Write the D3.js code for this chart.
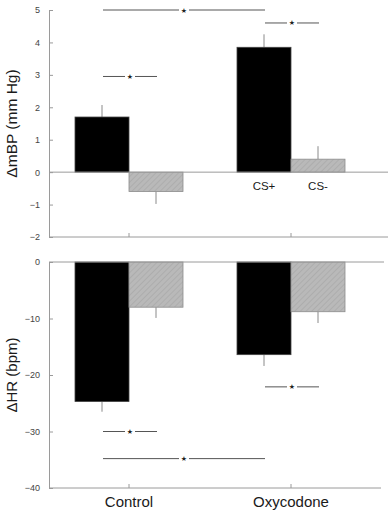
<!DOCTYPE html>
<html>
<head>
<meta charset="utf-8">
<script src="https://cdn.jsdelivr.net/npm/d3@7"></script>
<style>
  body { margin: 0; background: #fff; }
  svg { display: block; font-family: "Liberation Sans", Arial, sans-serif; }
</style>
</head>
<body>
<svg id="chart"></svg>
<script>
// groups and cues
const groups = ["Control", "Oxycodone"];
const cues = ["CS+", "CS-"];

// change in mean blood pressure (mm Hg)
const mbpCSplus = [1.7, 3.85];
const mbpCSplusErr = [0.37, 0.4];
const mbpCSminus = [-0.6, 0.4];
const mbpCSminusErr = [0.38, 0.4];
const mbpTicks = [-2, -1, 0, 1, 2, 3, 4, 5];

// change in heart rate (bpm)
const hrCSplus = [-24.7, -16.4];
const hrCSplusErr = [1.8, 2.0];
const hrCSminus = [-8.0, -8.8];
const hrCSminusErr = [1.9, 2.0];
const hrTicks = [-40, -30, -20, -10, 0];

// significance brackets: [group, cue] -> [group, cue] at value y
const mbpSig = [
  { a: ["Control", "CS+"], b: ["Control", "CS-"], y: 2.95 },
  { a: ["Control", "CS+"], b: ["Oxycodone", "CS+"], y: 5.0 },
  { a: ["Oxycodone", "CS+"], b: ["Oxycodone", "CS-"], y: 4.6 }
];
const hrSig = [
  { a: ["Control", "CS+"], b: ["Control", "CS-"], y: -30 },
  { a: ["Control", "CS+"], b: ["Oxycodone", "CS+"], y: -34.8 },
  { a: ["Oxycodone", "CS+"], b: ["Oxycodone", "CS-"], y: -22.1 }
];

let width = 388, height = 513;
let axisX = 49;
let axisGray = "#9a9a9a";

let svg = d3.select("#chart").attr("width", width).attr("height", height);

let defs = svg.append("defs");
let pat = defs.append("pattern")
  .attr("id", "hatch")
  .attr("patternUnits", "userSpaceOnUse")
  .attr("width", 4).attr("height", 4)
  .attr("patternTransform", "rotate(45)");
pat.append("rect").attr("width", 4).attr("height", 4).attr("fill", "#b9b9b9");
pat.append("line").attr("x1", 0).attr("y1", 0).attr("x2", 0).attr("y2", 4)
  .attr("stroke", "#a6a6a6").attr("stroke-width", 1.2);

let x = d3.scaleBand().domain(groups).range([48, 372]);
let xCue = d3.scaleBand().domain(cues).range([0, 108]);
let barX = (g, c) => x(g) + x.bandwidth() / 2 - 54 + xCue(c);
let barMid = (g, c) => barX(g, c) + xCue.bandwidth() / 2;

function panel(cfg) {
  let y = d3.scaleLinear().domain(cfg.domain).range(cfg.range);
  let g = svg.append("g");

  let rows = [];
  groups.forEach((grp, i) => {
    rows.push({ group: grp, cue: "CS+", value: cfg.plus[i], err: cfg.plusErr[i] });
    rows.push({ group: grp, cue: "CS-", value: cfg.minus[i], err: cfg.minusErr[i] });
  });

  // error bars (drawn first, outward from bar end)
  g.selectAll(".err").data(rows).enter().append("line")
    .attr("class", "err")
    .attr("x1", d => barMid(d.group, d.cue))
    .attr("x2", d => barMid(d.group, d.cue))
    .attr("y1", d => y(d.value))
    .attr("y2", d => y(d.value + Math.sign(d.value) * d.err))
    .attr("stroke", "#8a8a8a").attr("stroke-width", 1);

  // bars
  g.selectAll(".bar").data(rows).enter().append("rect")
    .attr("class", "bar")
    .attr("x", d => barX(d.group, d.cue))
    .attr("width", xCue.bandwidth())
    .attr("y", d => Math.min(y(0), y(d.value)))
    .attr("height", d => Math.abs(y(d.value) - y(0)))
    .attr("fill", d => d.cue == "CS+" ? "#000" : "url(#hatch)")
    .attr("stroke", d => d.cue == "CS+" ? "#444" : "#8c8c8c")
    .attr("stroke-width", 0.8);

  // zero line
  g.append("line")
    .attr("x1", axisX).attr("x2", cfg.zeroEnd)
    .attr("y1", y(0)).attr("y2", y(0))
    .attr("stroke", axisGray).attr("stroke-width", 1);

  // y axis, ticks pointing inward
  let yAxis = d3.axisLeft(y).tickValues(cfg.ticks).tickFormat(d3.format("d"))
    .tickSizeInner(-4).tickSizeOuter(0).tickPadding(9);
  let ya = g.append("g").attr("transform", `translate(${axisX},0)`).call(yAxis);
  ya.select(".domain").attr("stroke", axisGray);
  ya.selectAll(".tick line").attr("stroke", axisGray);
  ya.selectAll(".tick text").attr("font-size", 9).attr("fill", "#444")
    .attr("font-family", "Liberation Sans, Arial, sans-serif");

  // x axis at bottom of panel
  let xAxis = d3.axisBottom(x).tickSizeInner(-4).tickSizeOuter(0).tickFormat(cfg.xLabels ? null : "");
  let xa = g.append("g").attr("transform", `translate(0,${cfg.range[0]})`).call(xAxis);
  xa.select(".domain").remove();
  xa.append("line").attr("x1", axisX).attr("x2", cfg.axisEnd)
    .attr("stroke", axisGray).attr("stroke-width", 1);
  xa.selectAll(".tick line").attr("stroke", axisGray);
  xa.selectAll(".tick text")
    .attr("font-size", 15).attr("fill", "#1a1a1a")
    .attr("font-family", "Liberation Sans, Arial, sans-serif")
    .attr("dy", "1.05em");

  // y title
  g.append("text")
    .attr("transform", `translate(${cfg.titleX},${(cfg.range[0] + cfg.range[1]) / 2}) rotate(-90)`)
    .attr("text-anchor", "middle")
    .attr("font-size", cfg.titleSize)
    .attr("fill", "#1a1a1a")
    .text(cfg.title);

  // significance lines with a star in the middle
  cfg.sig.forEach(s => {
    let x1 = barMid(s.a[0], s.a[1]) + 1;
    let x2 = barMid(s.b[0], s.b[1]) + 1;
    let xm = (x1 + x2) / 2;
    let yy = y(s.y);
    g.append("line").attr("x1", x1).attr("x2", xm - 5).attr("y1", yy).attr("y2", yy)
      .attr("stroke", "#555").attr("stroke-width", 1);
    g.append("line").attr("x1", xm + 5).attr("x2", x2).attr("y1", yy).attr("y2", yy)
      .attr("stroke", "#555").attr("stroke-width", 1);
    g.append("text").attr("x", xm).attr("y", yy + 2.5)
      .attr("text-anchor", "middle").attr("font-size", 7)
      .attr("font-family", "DejaVu Sans").attr("fill", "#222")
      .text("\u2605");
  });

  return y;
}

let yTop = panel({
  domain: [-2, 5], range: [237, 10], ticks: mbpTicks,
  plus: mbpCSplus, plusErr: mbpCSplusErr, minus: mbpCSminus, minusErr: mbpCSminusErr,
  sig: mbpSig, zeroEnd: 388, axisEnd: 388, xLabels: false,
  title: "\u0394mBP (mm Hg)", titleX: 17, titleSize: 15.5
});

// cue labels under the oxycodone bars
svg.append("g").selectAll("text").data(cues).enter().append("text")
  .attr("x", c => barMid("Oxycodone", c))
  .attr("y", yTop(0) + 18)
  .attr("text-anchor", "middle")
  .attr("font-size", 11.5)
  .attr("fill", "#1a1a1a")
  .text(c => c);

panel({
  domain: [-40, 0], range: [488, 262], ticks: hrTicks,
  plus: hrCSplus, plusErr: hrCSplusErr, minus: hrCSminus, minusErr: hrCSminusErr,
  sig: hrSig, zeroEnd: 384, axisEnd: 381, xLabels: true,
  title: "\u0394HR (bpm)", titleX: 17, titleSize: 15
});
</script>
</body>
</html>
